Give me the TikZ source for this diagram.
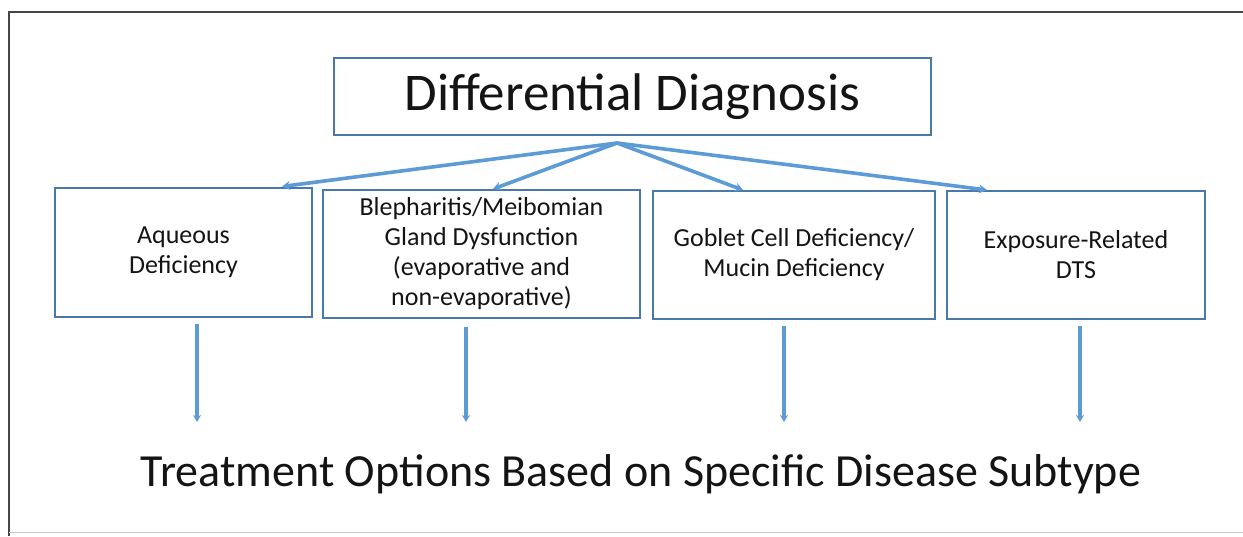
\documentclass[tikz,border=0pt]{standalone}
\usepackage{fontspec}
\setmainfont{Carlito}
\usetikzlibrary{arrows.meta}
\definecolor{boxblue}{RGB}{74,120,170}
\definecolor{arrblue}{RGB}{92,155,213}
\definecolor{framegray}{RGB}{70,70,70}
\definecolor{lightgray}{RGB}{200,200,200}
\definecolor{txt}{RGB}{20,20,20}
\begin{document}
\begin{tikzpicture}[x=1pt,y=-1pt,
  box/.style={draw=boxblue,line width=2pt,inner sep=0pt,align=center,text=txt,font=\fontsize{26}{30}\selectfont},
  conn/.style={draw=arrblue,line width=3.6pt,-{Stealth[length=8pt,width=9pt]}},
  vconn/.style={draw=arrblue,line width=3.2pt,-{Stealth[length=7pt,width=8pt]}}]
\useasboundingbox (0,0) rectangle (1243,536);
% frame
\draw[framegray,line width=2.2pt] (1243,12) -- (9,12) -- (9,536);
\draw[lightgray,line width=1pt] (9,532) -- (1243,532);
% title
\node[box,minimum width=597pt,minimum height=77pt,font=\fontsize{53}{60}\selectfont] (title) at (632.5,96.5) {Differential Diagnosis};
\coordinate (hub) at (617,143);
% boxes
\node[box,minimum width=257pt,minimum height=129pt] (b1) at (183.5,252) {Aqueous\\Deficiency};
\node[box,minimum width=317pt,minimum height=128pt] (b2) at (481.5,254) {Blepharitis/Meibomian\\Gland Dysfunction\\(evaporative and\\non-evaporative)};
\node[box,minimum width=282pt,minimum height=128pt] (b3) at (794,255) {Goblet Cell Deficiency/\\Mucin Deficiency};
\node[box,minimum width=258pt,minimum height=128pt] (b4) at (1076,255) {Exposure-Related\\DTS};
% connectors from hub
\draw[conn] (hub) -- (b1.north -| 282,0);
\draw[conn] (hub) -- (b2.north -| 493,0);
\draw[conn] (hub) -- (b3.north -| 743,0);
\draw[conn] (hub) -- (b4.north -| 987,0);
% bottom text
\node[font=\fontsize{46}{52}\selectfont,inner sep=0pt,text=txt] (treat) at (641,474) {Treatment Options Based on Specific Disease Subtype};
% vertical connectors
\coordinate (v1) at (197,422);
\coordinate (v2) at (466,422);
\coordinate (v3) at (784,422);
\coordinate (v4) at (1080,422);
\draw[vconn] (b1.south -| v1) ++(0,6) -- (v1);
\draw[vconn] (b2.south -| v2) ++(0,8) -- (v2);
\draw[vconn] (b3.south -| v3) ++(0,6) -- (v3);
\draw[vconn] (b4.south -| v4) ++(0,6) -- (v4);
\end{tikzpicture}
\end{document}
